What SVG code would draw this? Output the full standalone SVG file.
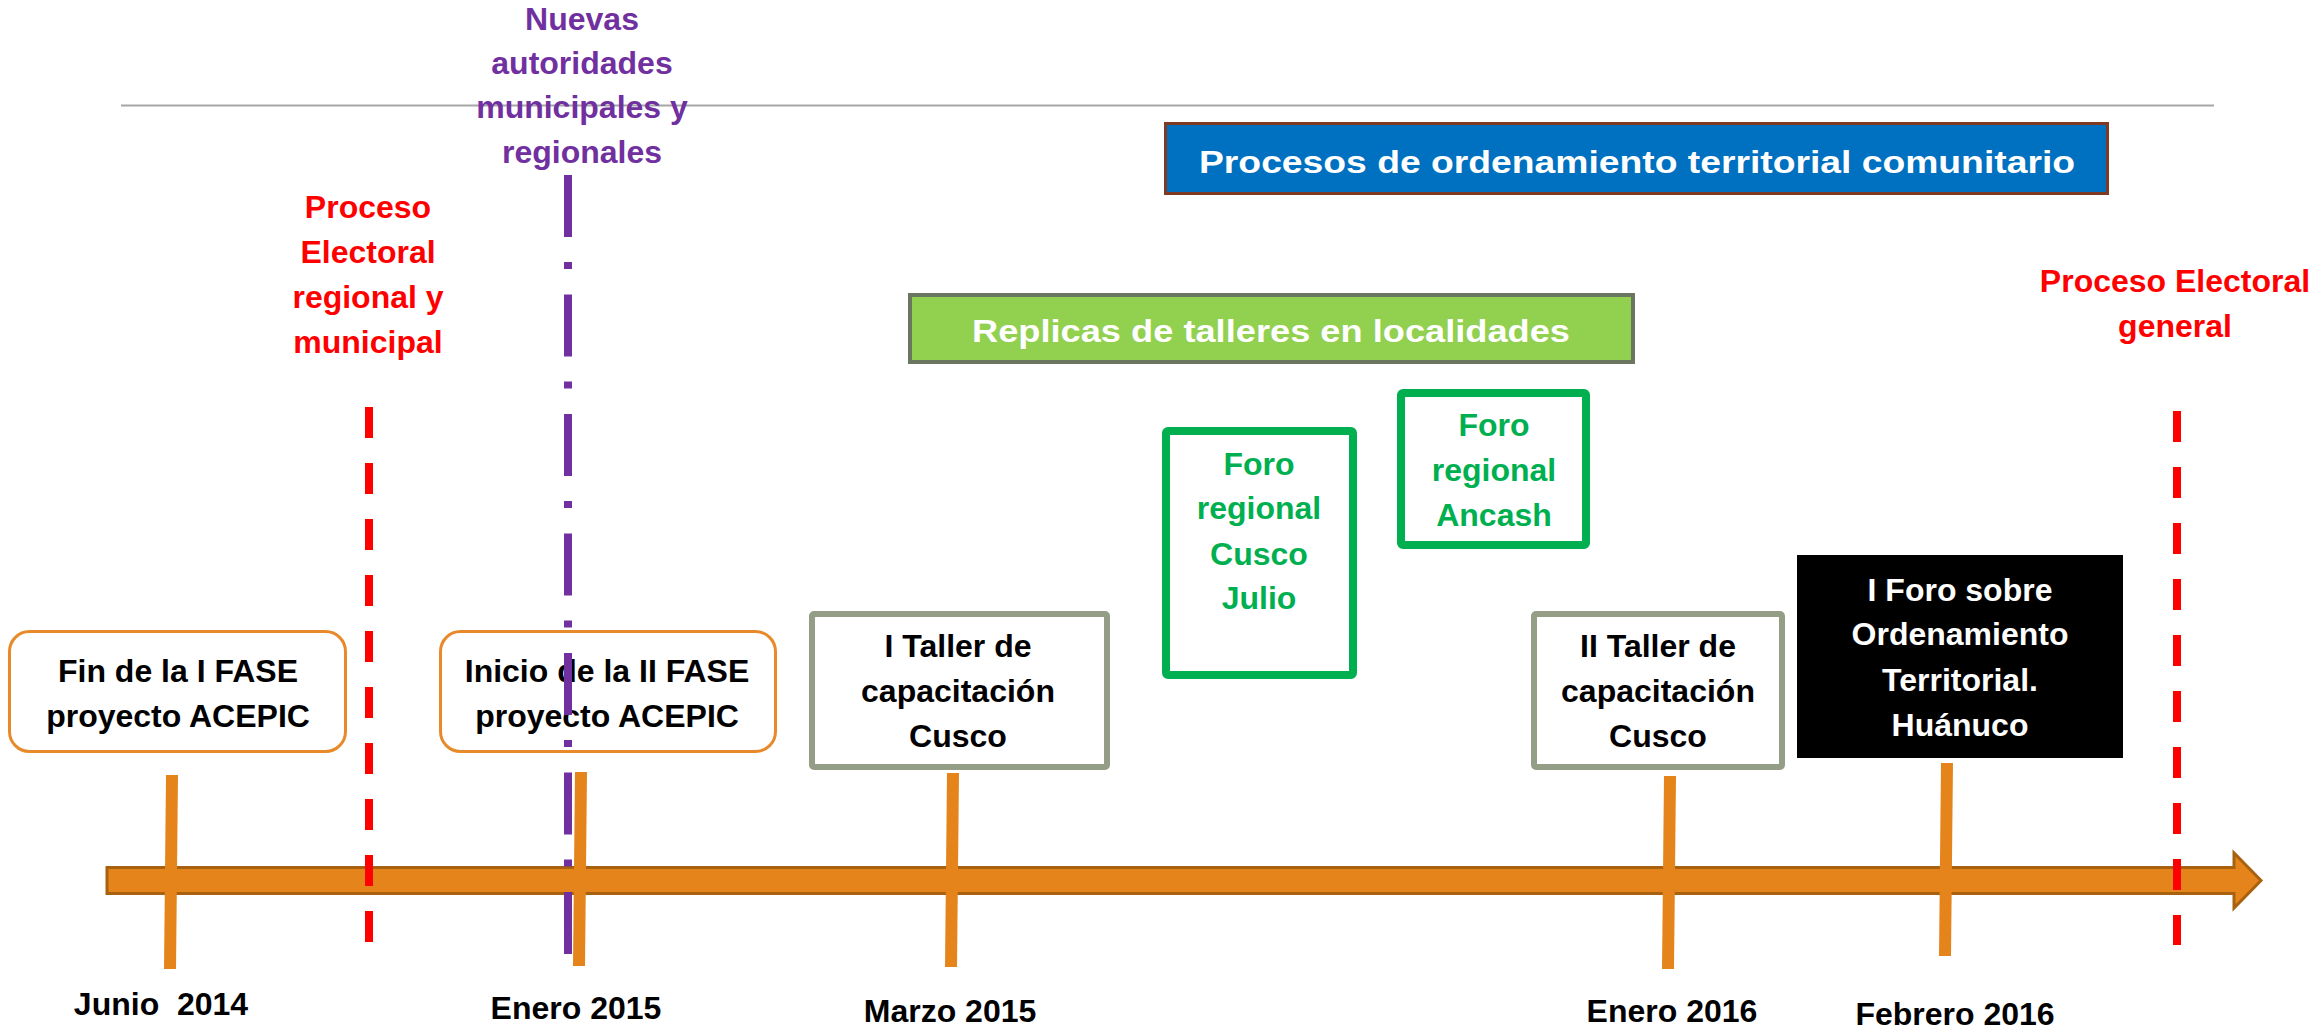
<svg xmlns="http://www.w3.org/2000/svg" width="2316" height="1030" viewBox="0 0 2316 1030">
<style>
text{font-family:"Liberation Sans",Arial,sans-serif;font-weight:bold;font-size:32px;text-anchor:middle;white-space:pre}
.blk{fill:#000}
.red{fill:#FF0000}
.pur{fill:#7030A0}
.grn{fill:#00B050}
.wht{fill:#FFFFFF}
.phase{fill:#FFFFFF;stroke:#E8892A;stroke-width:3}
.taller{fill:#FFFFFF;stroke:#949E86;stroke-width:6}
.foro{fill:#FFFFFF;stroke:#00B050;stroke-width:8}
.tick{stroke:#E5841A;stroke-width:12;fill:none}
.reddash{stroke:#FF0000;stroke-width:8;stroke-dasharray:31 25;fill:none}
.purdash{stroke:#7030A0;stroke-width:8;stroke-dasharray:62 25 7 25.5;fill:none}
</style>
<rect width="2316" height="1030" fill="#FFFFFF"/>
<line x1="121" y1="105.5" x2="2214" y2="105.5" stroke="#A6A6A6" stroke-width="2"/>

<g id="node-nuevas-autoridades">
<text class="pur"><tspan x="582" y="30">Nuevas</tspan><tspan x="582" y="74">autoridades</tspan><tspan x="582" y="118">municipales y</tspan><tspan x="582" y="163">regionales</tspan></text>
</g>
<g id="node-proceso-electoral-regional">
<text class="red"><tspan x="368" y="218">Proceso</tspan><tspan x="368" y="263">Electoral</tspan><tspan x="368" y="308">regional y</tspan><tspan x="368" y="353">municipal</tspan></text>
</g>
<g id="node-proceso-electoral-general">
<text class="red"><tspan x="2175" y="292">Proceso Electoral</tspan><tspan x="2175" y="337">general</tspan></text>
</g>

<g id="node-procesos-ordenamiento">
<rect x="1165.5" y="123.5" width="942" height="70" fill="#0070C0" stroke="#7F3B22" stroke-width="3"/>
<text class="wht" x="1637" y="173" font-size="37" textLength="876" lengthAdjust="spacingAndGlyphs">Procesos de ordenamiento territorial comunitario</text>
</g>
<g id="node-replicas">
<rect x="910" y="295" width="723" height="67" fill="#92D050" stroke="#6B7660" stroke-width="4"/>
<text class="wht" x="1271" y="342" font-size="36" textLength="598" lengthAdjust="spacingAndGlyphs">Replicas de talleres en localidades</text>
</g>

<g id="node-foro-cusco">
<rect class="foro" x="1166" y="431" width="187" height="244" rx="2"/>
<text class="grn"><tspan x="1259" y="474.5">Foro</tspan><tspan x="1259" y="519">regional</tspan><tspan x="1259" y="564.5">Cusco</tspan><tspan x="1259" y="609">Julio</tspan></text>
</g>
<g id="node-foro-ancash">
<rect class="foro" x="1401" y="393" width="185" height="152" rx="2"/>
<text class="grn"><tspan x="1494" y="436">Foro</tspan><tspan x="1494" y="481">regional</tspan><tspan x="1494" y="526">Ancash</tspan></text>
</g>

<g id="node-fin-fase1">
<rect class="phase" x="9.5" y="631.5" width="336" height="120" rx="20"/>
<text class="blk"><tspan x="178" y="682">Fin de la I FASE</tspan><tspan x="178" y="727">proyecto ACEPIC</tspan></text>
</g>
<g id="node-inicio-fase2">
<rect class="phase" x="440.5" y="631.5" width="335" height="120" rx="20"/>
<text class="blk"><tspan x="607" y="682">Inicio de la II FASE</tspan><tspan x="607" y="727">proyecto ACEPIC</tspan></text>
</g>
<g id="node-taller1">
<rect class="taller" x="812" y="614" width="295" height="153" rx="2"/>
<text class="blk"><tspan x="958" y="657">I Taller de</tspan><tspan x="958" y="702">capacitación</tspan><tspan x="958" y="747">Cusco</tspan></text>
</g>
<g id="node-taller2">
<rect class="taller" x="1534" y="614" width="248" height="153" rx="2"/>
<text class="blk"><tspan x="1658" y="657">II Taller de</tspan><tspan x="1658" y="702">capacitación</tspan><tspan x="1658" y="747">Cusco</tspan></text>
</g>
<g id="node-foro-huanuco">
<rect x="1797" y="555" width="326" height="203" fill="#000000"/>
<text class="wht"><tspan x="1960" y="600.5">I Foro sobre</tspan><tspan x="1960" y="645">Ordenamiento</tspan><tspan x="1960" y="691">Territorial.</tspan><tspan x="1960" y="736">Huánuco</tspan></text>
</g>

<g id="connectors">
<polygon points="107,867.5 2234,867.5 2234,853 2261,880.5 2234,908 2234,893.5 107,893.5" fill="#E5841A" stroke="#A8620F" stroke-width="3" stroke-linejoin="miter"/>
<line class="tick" x1="172" y1="775" x2="170" y2="969"/>
<line class="tick" x1="581" y1="772" x2="579" y2="966"/>
<line class="tick" x1="953" y1="773" x2="951" y2="967"/>
<line class="tick" x1="1670" y1="776" x2="1668" y2="969"/>
<line class="tick" x1="1947" y1="763" x2="1945" y2="956"/>
<line class="reddash" x1="369" y1="407" x2="369" y2="943"/>
<line class="reddash" x1="2177" y1="411" x2="2177" y2="945"/>
<line class="purdash" x1="568" y1="175" x2="568" y2="956"/>
</g>

<g id="node-dates">
<text class="blk" x="161" y="1015">Junio  2014</text>
<text class="blk" x="576" y="1019">Enero 2015</text>
<text class="blk" x="950" y="1022">Marzo 2015</text>
<text class="blk" x="1672" y="1022">Enero 2016</text>
<text class="blk" x="1955" y="1025">Febrero 2016</text>
</g>
</svg>
